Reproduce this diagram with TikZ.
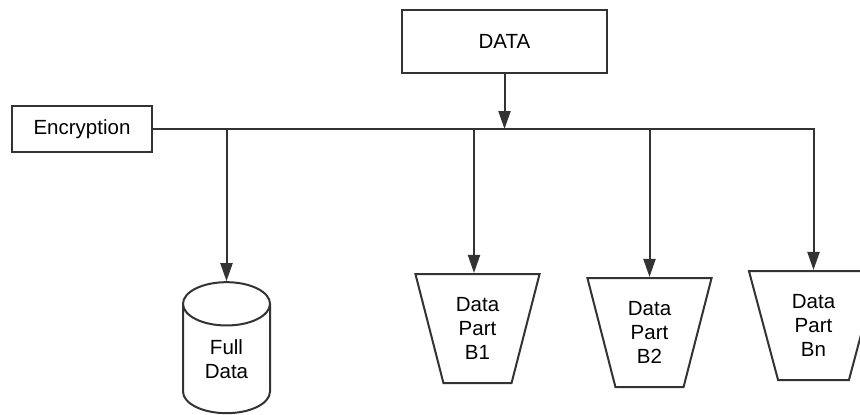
\documentclass[tikz,border=0pt]{standalone}
\usepackage{fontspec}
\setmainfont{Liberation Sans}
\usepackage{xcolor}
\usetikzlibrary{arrows.meta,positioning,shapes.geometric}

\definecolor{linegray}{HTML}{333333}

\begin{document}
\begin{tikzpicture}[x=1pt, y=-1pt, line width=2pt,
    font=\fontsize{20.5}{24}\selectfont,
    box/.style={draw=linegray, rectangle, inner sep=0pt},
    part/.style={draw=linegray, trapezium, shape border rotate=180, trapezium angle=74,
      trapezium stretches=true, minimum width=125pt, minimum height=109pt,
      align=center, inner sep=0pt},
    store/.style={draw=linegray, cylinder, shape border rotate=90, aspect=1,
      minimum width=87pt, minimum height=131pt, align=center, inner sep=0pt},
    arr/.style={-{Triangle[length=18pt, width=12pt]}, draw=linegray}]
  \useasboundingbox (0,0) rectangle (860,415);

  % source and key
  \node[box, minimum width=205pt, minimum height=63pt] (data) at (504.5,41.5) {DATA};
  \node[box, minimum width=140pt, minimum height=46pt] (enc) at (82,129) {Encryption};

  % outputs
  \node[store] (full) at (226.5,359) {Full\\Data};
  \node[part] (b1) at (477.5,328.5) {Data\\Part\\B1};
  \node[part] (b2) at (649.5,332.5) {Data\\Part\\B2};
  \node[part, minimum width=130pt] (bn) at (813.5,325.5) {Data\\Part\\Bn};

  % bus line and drops
  \draw[arr] (data.south) -- (data.south |- enc.east);
  \draw[arr] (enc.east) -| (bn.north);
  \coordinate (j1) at (474,129);
  \draw[arr] (full.north |- enc.east) -- (full.north);
  \draw[arr] (j1) -- (j1 |- b1.north);
  \draw[arr] (b2.north |- enc.east) -- (b2.north);
\end{tikzpicture}
\end{document}
